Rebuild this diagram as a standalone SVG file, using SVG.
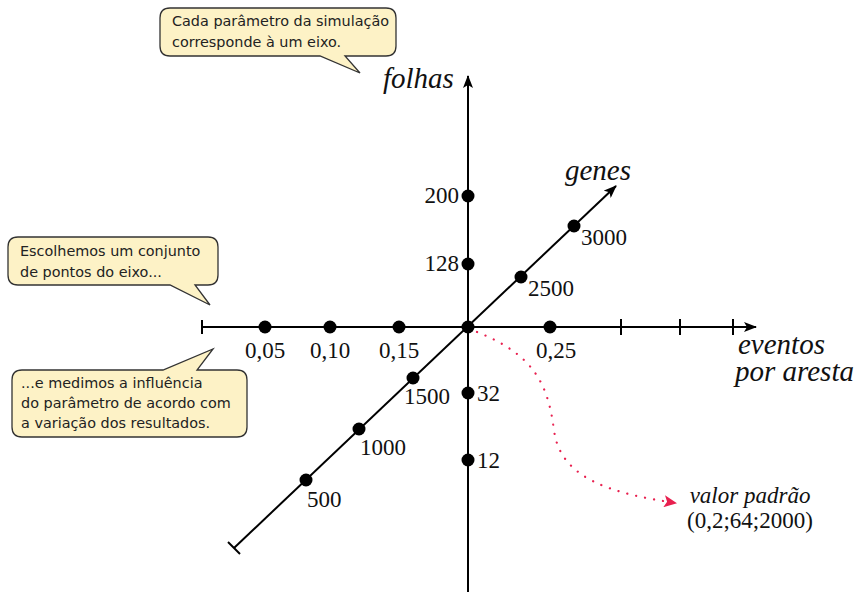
<svg xmlns="http://www.w3.org/2000/svg" width="858" height="594" viewBox="0 0 858 594">
<style>
.ax{stroke:#000;stroke-width:2;fill:none}
.dot{fill:#000}
.num{font-family:"Liberation Serif","DejaVu Serif",serif;font-size:23px;fill:#111}
.lab{font-family:"Liberation Serif","DejaVu Serif",serif;font-style:italic;font-size:29px;fill:#111}
.bub{fill:#fdf2c6;stroke:#333;stroke-width:1.3}
.bt{font-family:"DejaVu Sans","Verdana",sans-serif;font-size:14.4px;fill:#222}
</style>
<defs>
<marker id="ah" markerWidth="14" markerHeight="10" refX="12" refY="5" orient="auto" markerUnits="userSpaceOnUse">
<path d="M0,0 L13,5 L0,10 L3,5 Z" fill="#000"/>
</marker>
<marker id="rh" markerWidth="14" markerHeight="12" refX="12" refY="6" orient="auto" markerUnits="userSpaceOnUse">
<path d="M0,0 L13,6 L0,12 L3,6 Z" fill="#e8204f"/>
</marker>
</defs>
<g id="connectors">
<line class="ax" x1="468" y1="592" x2="468" y2="76" marker-end="url(#ah)"/>
<line class="ax" x1="202" y1="327" x2="756" y2="327" marker-end="url(#ah)"/>
<line class="ax" x1="202" y1="320" x2="202" y2="334"/>
<line class="ax" x1="621" y1="319" x2="621" y2="335"/>
<line class="ax" x1="680" y1="319" x2="680" y2="335"/>
<line class="ax" x1="733" y1="319" x2="733" y2="335"/>
<line class="ax" x1="234" y1="548" x2="616" y2="186" marker-end="url(#ah)"/>
<line class="ax" x1="228" y1="542" x2="240" y2="554"/>
<path d="M477 332 C535 355 548 385 554 430 C560 480 615 494 676 503" fill="none" stroke="#e8204f" stroke-width="2.2" stroke-linecap="round" stroke-dasharray="0.1 9" marker-end="url(#rh)"/>
</g>
<g id="origin"><circle class="dot" cx="468" cy="327" r="6.5"/></g>
<g id="x-points">
<circle class="dot" cx="265" cy="327" r="6.5"/><text class="num" x="265" y="358" text-anchor="middle">0,05</text>
<circle class="dot" cx="330" cy="327" r="6.5"/><text class="num" x="330" y="358" text-anchor="middle">0,10</text>
<circle class="dot" cx="399" cy="327" r="6.5"/><text class="num" x="399" y="358" text-anchor="middle">0,15</text>
<circle class="dot" cx="550" cy="327" r="6.5"/><text class="num" x="556" y="358" text-anchor="middle">0,25</text>
</g>
<g id="y-points">
<circle class="dot" cx="468" cy="196" r="6.5"/><text class="num" x="459" y="203" text-anchor="end">200</text>
<circle class="dot" cx="468" cy="264" r="6.5"/><text class="num" x="459" y="271" text-anchor="end">128</text>
<circle class="dot" cx="468" cy="393" r="6.5"/><text class="num" x="477" y="401">32</text>
<circle class="dot" cx="468" cy="460" r="6.5"/><text class="num" x="477" y="468">12</text>
</g>
<g id="z-points">
<circle class="dot" cx="306" cy="480" r="6.5"/><text class="num" x="307" y="507">500</text>
<circle class="dot" cx="359" cy="429" r="6.5"/><text class="num" x="360" y="455">1000</text>
<circle class="dot" cx="413" cy="378" r="6.5"/><text class="num" x="404" y="404">1500</text>
<circle class="dot" cx="521" cy="277" r="6.5"/><text class="num" x="528" y="296">2500</text>
<circle class="dot" cx="574" cy="226" r="6.5"/><text class="num" x="581" y="245">3000</text>
</g>
<g id="axis-labels">
<text class="lab" x="383" y="88">folhas</text>
<text class="lab" x="565" y="180">genes</text>
<text class="lab" x="738" y="354">eventos</text>
<text class="lab" x="735" y="381">por aresta</text>
</g>
<g id="default-value">
<text class="num" x="750" y="503" text-anchor="middle" style="font-style:italic">valor padrão</text>
<text class="num" x="750" y="528" text-anchor="middle">(0,2;64;2000)</text>
</g>
<g id="callout-1">
<path class="bub" d="M170 8 H386 Q396 8 396 18 V46 Q396 56 386 56 H345 L360 73 L320 56 H170 Q160 56 160 46 V18 Q160 8 170 8 Z"/>
<text class="bt" x="172" y="26">Cada parâmetro da simulação</text>
<text class="bt" x="172" y="47">corresponde à um eixo.</text>
</g>
<g id="callout-2">
<path class="bub" d="M18 237 H208 Q218 237 218 247 V275 Q218 285 208 285 H195 L210 305 L170 285 H18 Q8 285 8 275 V247 Q8 237 18 237 Z"/>
<text class="bt" x="20" y="256">Escolhemos um conjunto</text>
<text class="bt" x="20" y="277">de pontos do eixo...</text>
</g>
<g id="callout-3">
<path class="bub" d="M22 370 H163 L213 349 L197 370 H237 Q247 370 247 380 V427 Q247 437 237 437 H22 Q12 437 12 427 V380 Q12 370 22 370 Z"/>
<text class="bt" x="21" y="388">...e medimos a influência</text>
<text class="bt" x="21" y="408">do parâmetro de acordo com</text>
<text class="bt" x="21" y="428">a variação dos resultados.</text>
</g>
</svg>
